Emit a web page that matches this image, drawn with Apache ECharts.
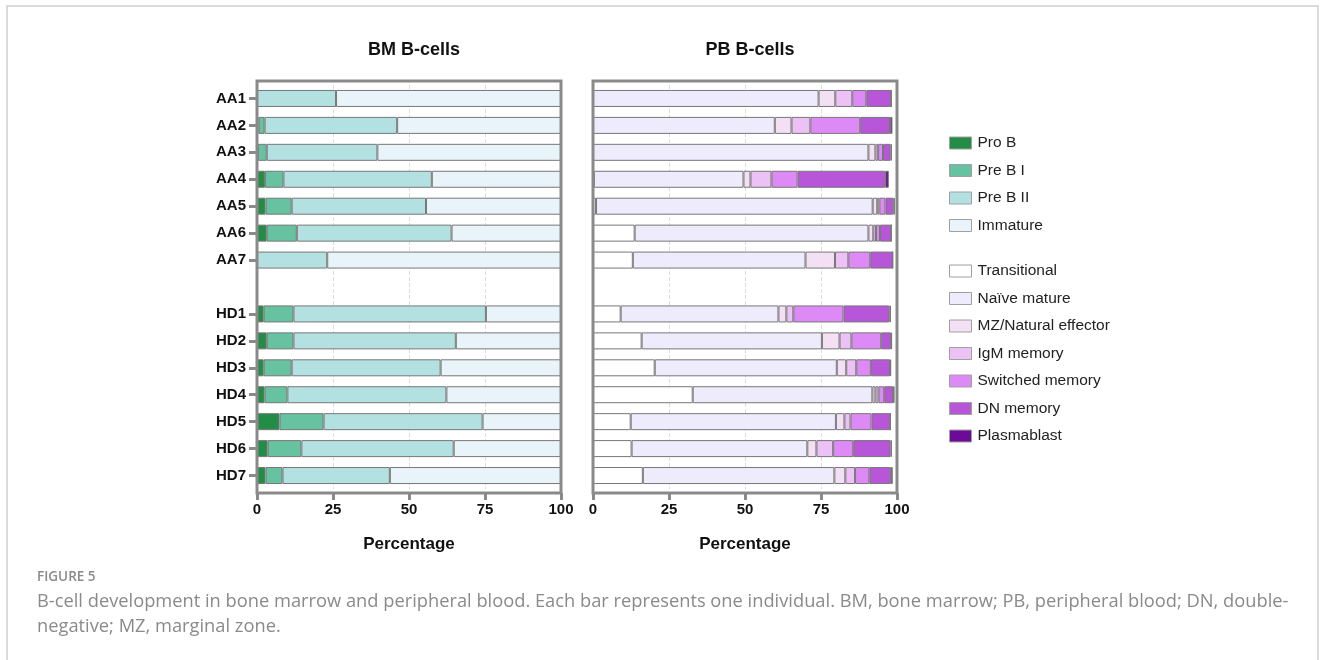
<!DOCTYPE html>
<html style="height: 100%">
   <head>
       <meta charset="utf-8">
   </head>
   <body style="height: 100%; margin: 0; background: #fff">
       <div id="container" style="width: 1330px; height: 660px"></div>
       <script type="text/javascript" src="https://cdn.jsdelivr.net/npm/echarts@6/dist/echarts.min.js"></script>
       <script type="text/javascript">
// samples, top to bottom ('' = gap row between AA and HD)
var samples = ['AA1', 'AA2', 'AA3', 'AA4', 'AA5', 'AA6', 'AA7', '',
               'HD1', 'HD2', 'HD3', 'HD4', 'HD5', 'HD6', 'HD7'];

// BM B-cells, % per stage
var bmNames = ['Pro B', 'Pre B I', 'Pre B II', 'Immature'];
var bmColors = ['#238c46', '#66c2a0', '#b3e1e1', '#e8f4f9'];
var bmProB     = [0,   0.5, 0.3, 2.6, 2.8, 3.2, 0,    null, 2.2, 3.2, 2.2, 2.5, 7.4, 3.5, 2.8];
var bmPreBI    = [0,   2.0, 2.9, 6.1, 8.6, 9.9, 0,    null, 9.8, 8.8, 9.2, 7.5, 14.5, 11.1, 5.6];
var bmPreBII   = [26.0, 43.6, 36.4, 48.8, 44.2, 50.9, 23.1, null, 63.3, 53.4, 49.0, 52.3, 52.3, 50.1, 35.3];
var bmImmature = [74.0, 53.9, 60.4, 42.5, 44.4, 36.0, 76.9, null, 24.7, 34.6, 39.6, 37.7, 25.8, 35.3, 56.3];

// PB B-cells, % per subset
var pbNames = ['Transitional', 'Naïve mature', 'MZ/Natural effector', 'IgM memory',
               'Switched memory', 'DN memory', 'Plasmablast'];
var pbColors = ['#ffffff', '#eeebfc', '#f3e0f4', '#ecc1f5', '#de8af6', '#b756d8', '#6b0b97'];
var pbTransitional = [0,    0,    0,    0.3,  1.0,  13.7, 13.1, null, 9.1,  16.0, 20.3, 32.8, 12.4, 12.7, 16.4];
var pbNaive        = [74.2, 59.8, 90.6, 49.2, 91.0, 76.9, 56.8, null, 51.9, 59.3, 59.9, 59.1, 67.5, 57.8, 63.0];
var pbMZ           = [5.5,  5.5,  2.3,  2.3,  1.5,  1.6,  9.7,  null, 2.6,  5.8,  3.1,  1.0,  2.8,  3.0,  3.6];
var pbIgM          = [5.6,  6.2,  0.9,  6.9,  0.7,  0.9,  4.4,  null, 2.3,  3.9,  3.3,  1.0,  2.0,  5.5,  3.2];
var pbSwitched     = [4.6,  16.4, 1.6,  8.6,  2.0,  1.3,  7.2,  null, 16.5, 9.8,  4.8,  1.9,  6.9,  6.6,  4.7];
var pbDN           = [8.2,  9.8,  2.5,  28.8, 2.6,  3.7,  7.4,  null, 15.1, 3.2,  6.3,  2.9,  6.2,  12.3, 7.1];
var pbPlasmablast  = [0,    0.8,  0.4,  1.2,  0.5,  0,    0,    null, 0.5,  0.4,  0.4,  0.5,  0,    0.4,  0.6];

var xTicks = [0, 25, 50, 75, 100];

var bmData = [bmProB, bmPreBI, bmPreBII, bmImmature];
var pbData = [pbTransitional, pbNaive, pbMZ, pbIgM, pbSwitched, pbDN, pbPlasmablast];

var axisFont = '"Liberation Sans", Arial, sans-serif';
var captionFont = '"Open Sans", sans-serif';
var frameColor = '#8a8a8a';

function makeX(idx) {
    return {
        type: 'value', gridIndex: idx, min: xTicks[0], max: xTicks[xTicks.length - 1], interval: 25,
        offset: 4,
        name: 'Percentage', nameLocation: 'middle', nameGap: 43,
        nameTextStyle: {fontFamily: axisFont, fontWeight: 'bold', fontSize: 17, color: '#111'},
        axisLine: {show: false},
        axisTick: {show: true, length: 7, lineStyle: {color: frameColor, width: 3}},
        axisLabel: {fontFamily: axisFont, fontWeight: 'bold', fontSize: 15, color: '#111', margin: 9},
        splitLine: {show: true, lineStyle: {color: '#dcdcdc', type: 'dashed', width: 1}}
    };
}

function makeY(idx, labels) {
    return {
        type: 'category', gridIndex: idx, data: samples, inverse: true,
        axisLine: {show: false},
        axisTick: {
            show: labels, alignWithLabel: true, length: 8,
            interval: function (i, v) { return v !== ''; },
            lineStyle: {color: frameColor, width: 3}
        },
        axisLabel: {show: labels, fontFamily: axisFont, fontWeight: 'bold', fontSize: 15, color: '#111', margin: 11}
    };
}

var series = [];
bmData.forEach(function (d, i) {
    series.push({
        name: bmNames[i], type: 'bar', stack: 'bm', xAxisIndex: 0, yAxisIndex: 0,
        data: d, barWidth: 17,
        itemStyle: {color: bmColors[i], borderColor: '#777', borderWidth: 1}
    });
});
pbData.forEach(function (d, i) {
    series.push({
        name: pbNames[i], type: 'bar', stack: 'pb', xAxisIndex: 1, yAxisIndex: 1,
        data: d, barWidth: 17,
        itemStyle: {color: pbColors[i], borderColor: '#777', borderWidth: 1}
    });
});

var legendBase = {
    orient: 'vertical', left: 944, icon: 'rect', itemWidth: 22, itemHeight: 12, itemGap: 11.5,
    selectedMode: false,
    itemStyle: {borderColor: '#a0a0a0', borderWidth: 1},
    textStyle: {fontFamily: axisFont, fontSize: 15.5, color: '#222', padding: [0, 0, 0, 1]}
};

var dom = document.getElementById('container');
var myChart = echarts.init(dom);
var option = {
    animation: false,
    backgroundColor: '#fff',
    title: [
        {text: 'BM B-cells', left: 409, top: 36, textAlign: 'center',
         textStyle: {fontFamily: axisFont, fontWeight: 'bold', fontSize: 18, color: '#111'}},
        {text: 'PB B-cells', left: 745, top: 36, textAlign: 'center',
         textStyle: {fontFamily: axisFont, fontWeight: 'bold', fontSize: 18, color: '#111'}}
    ],
    legend: [
        echarts.util.extend({data: bmNames, top: 130}, legendBase),
        echarts.util.extend({data: pbNames, top: 258}, legendBase)
    ],
    grid: [
        {left: 257, width: 304, top: 85, height: 404},
        {left: 593, width: 304, top: 85, height: 404}
    ],
    xAxis: [makeX(0), makeX(1)],
    yAxis: [makeY(0, true), makeY(1, false)],
    series: series,
    graphic: [
        {type: 'rect', shape: {x: 7, y: 6, width: 1311, height: 700}, silent: true, z: -10,
         style: {fill: 'none', stroke: '#cfcfcf', lineWidth: 1.5}},
        {type: 'rect', shape: {x: 257, y: 81, width: 304, height: 412}, silent: true, z: 10,
         style: {fill: 'none', stroke: frameColor, lineWidth: 3}},
        {type: 'rect', shape: {x: 593, y: 81, width: 304, height: 412}, silent: true, z: 10,
         style: {fill: 'none', stroke: frameColor, lineWidth: 3}},
        {type: 'text', left: 37, top: 570,
         style: {text: 'FIGURE 5', fontFamily: captionFont, fontSize: 13.5, fontWeight: 600, fill: '#8a8a8a'}},
        {type: 'text', left: 37, top: 590,
         style: {text: 'B-cell development in bone marrow and peripheral blood. Each bar represents one individual. BM, bone marrow; PB, peripheral blood; DN, double-\nnegative; MZ, marginal zone.',
                 fontFamily: captionFont, fontSize: 18.3, lineHeight: 24.5, fill: '#8a8a8a'}}
    ]
};
myChart.setOption(option);
       </script>
   </body>
</html>
